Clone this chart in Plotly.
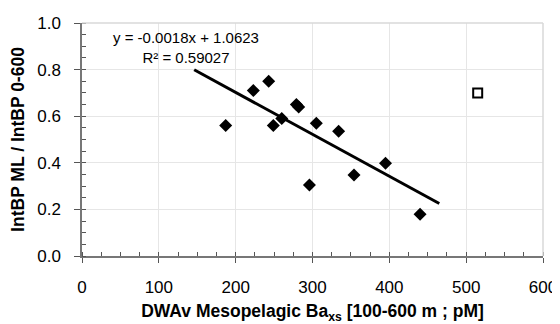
import plotly.graph_objects as go

# station values (DWAv mesopelagic Ba_xs vs IntBP ratio)
ba_xs = [187, 223, 243, 249, 260, 279, 282, 296, 305, 334, 354, 395, 440]
bp_ratio = [0.56, 0.71, 0.75, 0.56, 0.59, 0.65, 0.64, 0.305, 0.57, 0.535, 0.348, 0.398, 0.179]

# outlier, excluded from the fit
out_x = [515]
out_y = [0.70]

# trendline from the Excel equation
slope = -0.0018
intercept = 1.0623
trend_x = [146, 465]
trend_y = [slope * v + intercept for v in trend_x]

font = "Liberation Sans, Arial, sans-serif"

fig = go.Figure()
fig.add_trace(go.Scatter(x=trend_x, y=trend_y, mode="lines",
                         line=dict(color="black", width=3), hoverinfo="skip"))
fig.add_trace(go.Scatter(x=ba_xs, y=bp_ratio, mode="markers",
                         marker=dict(symbol="diamond", size=10, color="black")))
fig.add_trace(go.Scatter(x=out_x, y=out_y, mode="markers",
                         marker=dict(symbol="square-open", size=9, color="black",
                                     line=dict(width=2, color="black"))))

fig.add_annotation(x=136, y=0.895, xref="x", yref="y", showarrow=False,
                   text="y = -0.0018x + 1.0623<br>R² = 0.59027",
                   font=dict(family=font, size=15, color="black"))

# page body has an 8px margin, so the figure is 8px smaller each way
fig.update_layout(
    width=552, height=316,
    margin=dict(l=74, r=17, t=15, b=68),
    paper_bgcolor="white", plot_bgcolor="white",
    showlegend=False,
    font=dict(family=font, color="black"),
    xaxis=dict(range=[0, 600], dtick=100, showgrid=True, gridcolor="#e6e6e6",
               automargin=False,
               ticks="outside", ticklen=5, tickcolor="#555", tickfont=dict(size=17),
               ticklabelstandoff=10,
               minor=dict(ticks="inside", ticklen=4, dtick=25, tickcolor="#555", showgrid=False),
               showline=True, linecolor="#777", linewidth=1.5, mirror=False, zeroline=False,
               title=dict(text="<b>DWAv Mesopelagic Ba<sub>xs</sub> [100-600 m ; pM]</b>",
                          font=dict(size=17.5), standoff=12)),
    yaxis=dict(range=[0, 1.0], dtick=0.2, tickformat=".1f", showgrid=True, gridcolor="#e6e6e6",
               automargin=False,
               ticks="outside", ticklen=6, tickcolor="#555", tickfont=dict(size=17),
               ticklabelstandoff=10,
               minor=dict(ticks="inside", ticklen=4, dtick=0.05, tickcolor="#555", showgrid=False),
               showline=True, linecolor="#777", linewidth=1.5, zeroline=False,
               title=dict(text="<b>IntBP ML / IntBP 0-600</b>", font=dict(size=17.5), standoff=8)),
    xaxis2=dict(range=[0, 600], overlaying="x", side="bottom", dtick=100, ticks="inside",
                automargin=False,
                ticklen=5, tickcolor="#555", showticklabels=False, showgrid=False,
                showline=False, zeroline=False),
    yaxis2=dict(range=[0, 1.0], overlaying="y", side="left", dtick=0.2, ticks="inside",
                automargin=False,
                ticklen=5, tickcolor="#555", showticklabels=False, showgrid=False,
                showline=False, zeroline=False),
    shapes=[dict(type="line", xref="paper", yref="paper", x0=0, x1=1, y0=1, y1=1,
                 line=dict(color="#d9d9d9", width=1.5)),
            dict(type="line", xref="paper", yref="paper", x0=1, x1=1, y0=0, y1=1,
                 line=dict(color="#d9d9d9", width=1.5))],
)

fig.write_html("out.html")
